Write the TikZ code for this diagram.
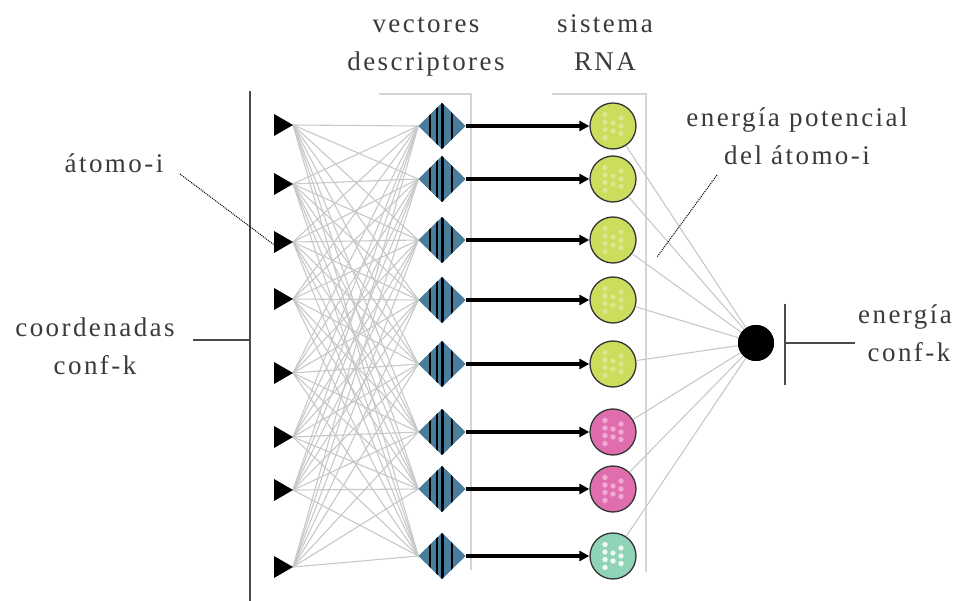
\documentclass[tikz,border=0pt]{standalone}
\usepackage{fontspec}
\setmainfont{Liberation Serif}[LetterSpace=9]
\usetikzlibrary{arrows.meta,shapes.geometric}
\definecolor{txt}{HTML}{3A3A3A}
\definecolor{edgegray}{HTML}{C8C8C8}
\definecolor{brk}{HTML}{D4D4D4}
\definecolor{dblue}{HTML}{4A7C9C}
\definecolor{cg}{HTML}{CCDC5C}
\definecolor{cgd}{HTML}{DCE890}
\definecolor{cp}{HTML}{E06EAE}
\definecolor{cpd}{HTML}{F2AAD2}
\definecolor{ct}{HTML}{90D4B8}
\definecolor{ctd}{HTML}{EEFAF4}
\definecolor{axisgray}{HTML}{4A4A4A}
\begin{document}
\begin{tikzpicture}[x=1pt,y=-1pt,
  lbl/.style={text=txt,font=\fontsize{27}{38}\selectfont,inner sep=0pt,anchor=base},
  conn/.style={draw=edgegray,line width=1.1pt},
  brack/.style={draw=brk,line width=2pt},
  axisline/.style={draw=axisgray,line width=2.6pt},
  arr/.style={draw=black,line width=3.4pt,-{Triangle[length=10pt,width=10pt]}},
  dotline/.style={draw=black,line width=1pt,densely dotted},
  desc/.style={diamond,fill=dblue,minimum width=47pt,minimum height=46pt,inner sep=0pt,
    path picture={\foreach \o in {-12,-5,0.5,10}{
      \fill[black] ([xshift=\o pt-1.4pt,yshift=-30pt]path picture bounding box.center) rectangle ([xshift=\o pt+1.4pt,yshift=30pt]path picture bounding box.center);}}},
  neuron/.style={circle,draw=black!80,line width=1.3pt,minimum size=46pt,inner sep=0pt},
  outn/.style={circle,fill=black,minimum size=36pt,inner sep=0pt}]
\useasboundingbox (0,0) rectangle (959,601);

% rows
\foreach \i/\ty in {1/125,2/184,3/242,4/299,5/373,6/437,7/490,8/567}{
  \coordinate (t\i) at (293,\ty);
}
\foreach \i/\dy in {1/126,2/179,3/240,4/300,5/364,6/432,7/489,8/556}{
  \coordinate (dpos\i) at (442,\dy);
  \coordinate (cpos\i) at (613,\dy);
}

% brackets
\draw[brack] (379,94) -- (471,94) -- (471,570);
\draw[brack] (552,94) -- (646,94) -- (646,572);

% output node
\node[outn] (out) at (756,343) {};

% diamonds (placed first so we can reference anchors)
\foreach \i in {1,...,8}{
  \node[desc] (d\i) at (dpos\i) {};
}
% full connections
\foreach \i in {1,...,8}{
  \foreach \j in {1,...,8}{
    \draw[conn] (t\i) -- (d\j.west);
  }
}
% redraw diamonds over lines
\foreach \i in {1,...,8}{
  \node[desc] at (dpos\i) {};
}
% triangles
\foreach \i in {1,...,8}{
  \fill[black] (t\i) -- ++(-19,-11) -- ++(0,22) -- cycle;
}

% neurons
\foreach \i/\fc/\dc in {1/cg/cgd,2/cg/cgd,3/cg/cgd,4/cg/cgd,5/cg/cgd,6/cp/cpd,7/cp/cpd,8/ct/ctd}{
  \node[neuron,fill=\fc] (c\i) at (cpos\i) {};
  \foreach \dx/\dyy in {-8/-11.5,-8/-4,-8/3.5,-8/11.5,0/-3,0/5,8/-8,8/0,8/7.5}{
    \fill[\dc] (c\i) ++(\dx,\dyy) circle[radius=2.7];
  }
  \draw[arr] (d\i.east) -- (c\i.west);
  \draw[conn] (c\i) -- (out);
}
\node[outn] at (756,343) {};

% axis lines
\coordinate (la) at (250,91);
\coordinate (lb) at (250,601);
\coordinate (lc) at (193,340);
\coordinate (ld) at (250,340);
\draw[axisline] (la) -- (lb);
\draw[axisline] (lc) -- (ld);
\coordinate (ra) at (785,304);
\coordinate (rb) at (785,385);
\coordinate (rc) at (785,343);
\coordinate (rd) at (855,343);
\draw[axisline] (ra) -- (rb);
\draw[axisline] (rc) -- (rd);

% labels
\node[lbl] (v1) at (426,33) {vectores};
\node[lbl] (v2) at (426,71) {descriptores};
\node[lbl] (s1) at (605,33) {sistema};
\node[lbl] (s2) at (605,71) {RNA};
\node[lbl] (e1) at (797,127) {energía potencial};
\node[lbl] (e2) at (797,165) {del átomo-i};
\node[lbl] (a1) at (114,173) {átomo-i};
\node[lbl] (k1) at (95,337) {coordenadas};
\node[lbl] (k2) at (95,375) {conf-k};
\node[lbl] (o1) at (905,324) {energía};
\node[lbl] (o2) at (909,362) {conf-k};

% pointer lines
\coordinate (pa1) at (180,174);
\coordinate (pa2) at (277,247);
\draw[dotline] (pa1) -- (pa2);
\coordinate (pe1) at (717,175);
\coordinate (pe2) at (657,257);
\draw[dotline] (pe1) -- (pe2);
\end{tikzpicture}
\end{document}
